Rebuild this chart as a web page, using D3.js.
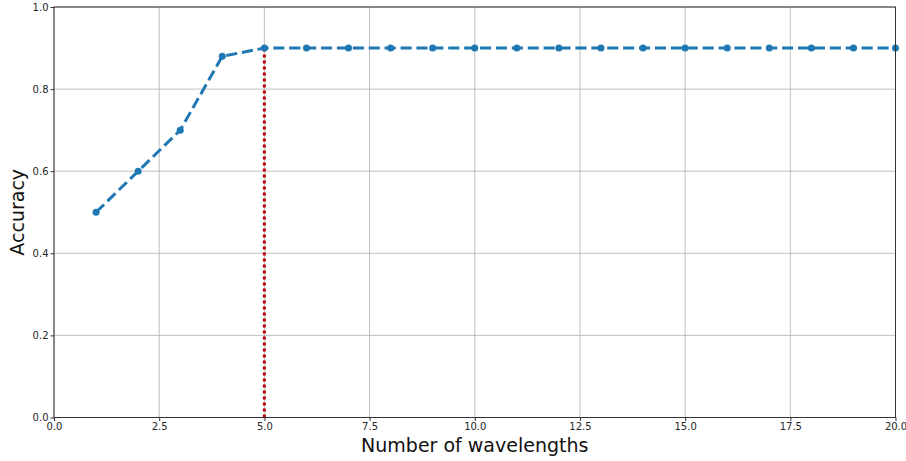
<!DOCTYPE html>
<html><head><meta charset="utf-8">
<script src="https://cdn.jsdelivr.net/npm/d3@7"></script>
<style>body{margin:0;background:#fff}svg{display:block}</style>
</head><body><svg id="c" width="906" height="461"></svg>
<script>
const xValues = [1,2,3,4,5,6,7,8,9,10,11,12,13,14,15,16,17,18,19,20];
const accuracy = [0.5,0.6,0.7,0.88,0.9,0.9,0.9,0.9,0.9,0.9,0.9,0.9,0.9,0.9,0.9,0.9,0.9,0.9,0.9,0.9];
const xTicks = [0,2.5,5,7.5,10,12.5,15,17.5,20];
const yTicks = [0,0.2,0.4,0.6,0.8,1.0];
const markerX = 5;
const markerY = 0.9;

const svg = d3.select("#c");
const L=54, R=895.5, T=7, B=417.5;
const x = d3.scaleLinear().domain([0,20]).range([L,R]);
const y = d3.scaleLinear().domain([0,1]).range([B,T]);
const font = "DejaVu Sans, sans-serif";

// grid
svg.append("g").selectAll("line").data(xTicks).join("line")
  .attr("x1",d=>x(d)).attr("x2",d=>x(d)).attr("y1",T).attr("y2",B)
  .attr("stroke","#b0b0b0").attr("stroke-width",0.8);
svg.append("g").selectAll("line").data(yTicks).join("line")
  .attr("y1",d=>y(d)).attr("y2",d=>y(d)).attr("x1",L).attr("x2",R)
  .attr("stroke","#b0b0b0").attr("stroke-width",0.8);

// axes
const xa = svg.append("g").attr("transform",`translate(0,${B})`)
  .call(d3.axisBottom(x).tickValues(xTicks).tickFormat(d3.format(".1f")).tickSizeInner(3.5).tickSizeOuter(0).tickPadding(2));
const ya = svg.append("g").attr("transform",`translate(${L},0)`)
  .call(d3.axisLeft(y).tickValues(yTicks).tickFormat(d3.format(".1f")).tickSizeInner(3.5).tickSizeOuter(0).tickPadding(2));
[xa,ya].forEach(a=>{
  a.selectAll("text").attr("font-family",font).attr("font-size",10).attr("fill","#262626");
  a.selectAll(".tick line").attr("stroke","#333");
  a.select(".domain").remove();
});

// red dotted vertical line
svg.append("line")
  .attr("x1",x(markerX)).attr("x2",x(markerX)).attr("y1",y(0)).attr("y2",y(markerY))
  .attr("stroke","#c00000").attr("stroke-width",3).attr("stroke-dasharray","3,3");

// data line
const line = d3.line().x((d,i)=>x(xValues[i])).y(d=>y(d));
svg.append("path").datum(accuracy).attr("d",line)
  .attr("fill","none").attr("stroke","#1f77b4").attr("stroke-width",3)
  .attr("stroke-dasharray","11.1,4.8");
svg.append("g").selectAll("circle").data(accuracy).join("circle")
  .attr("cx",(d,i)=>x(xValues[i])).attr("cy",d=>y(d)).attr("r",3.5).attr("fill","#1f77b4");

// frame
svg.append("rect").attr("x",L).attr("y",T).attr("width",R-L).attr("height",B-T)
  .attr("fill","none").attr("stroke","#333").attr("stroke-width",1);

// labels
svg.append("text").attr("x",(L+R)/2).attr("y",452).attr("text-anchor","middle")
  .attr("font-family",font).attr("font-size",19).attr("fill","#111").text("Number of wavelengths");
svg.append("text").attr("transform",`translate(24,${(T+B)/2}) rotate(-90)`).attr("text-anchor","middle")
  .attr("font-family",font).attr("font-size",19).attr("fill","#111").text("Accuracy");
</script></body></html>
